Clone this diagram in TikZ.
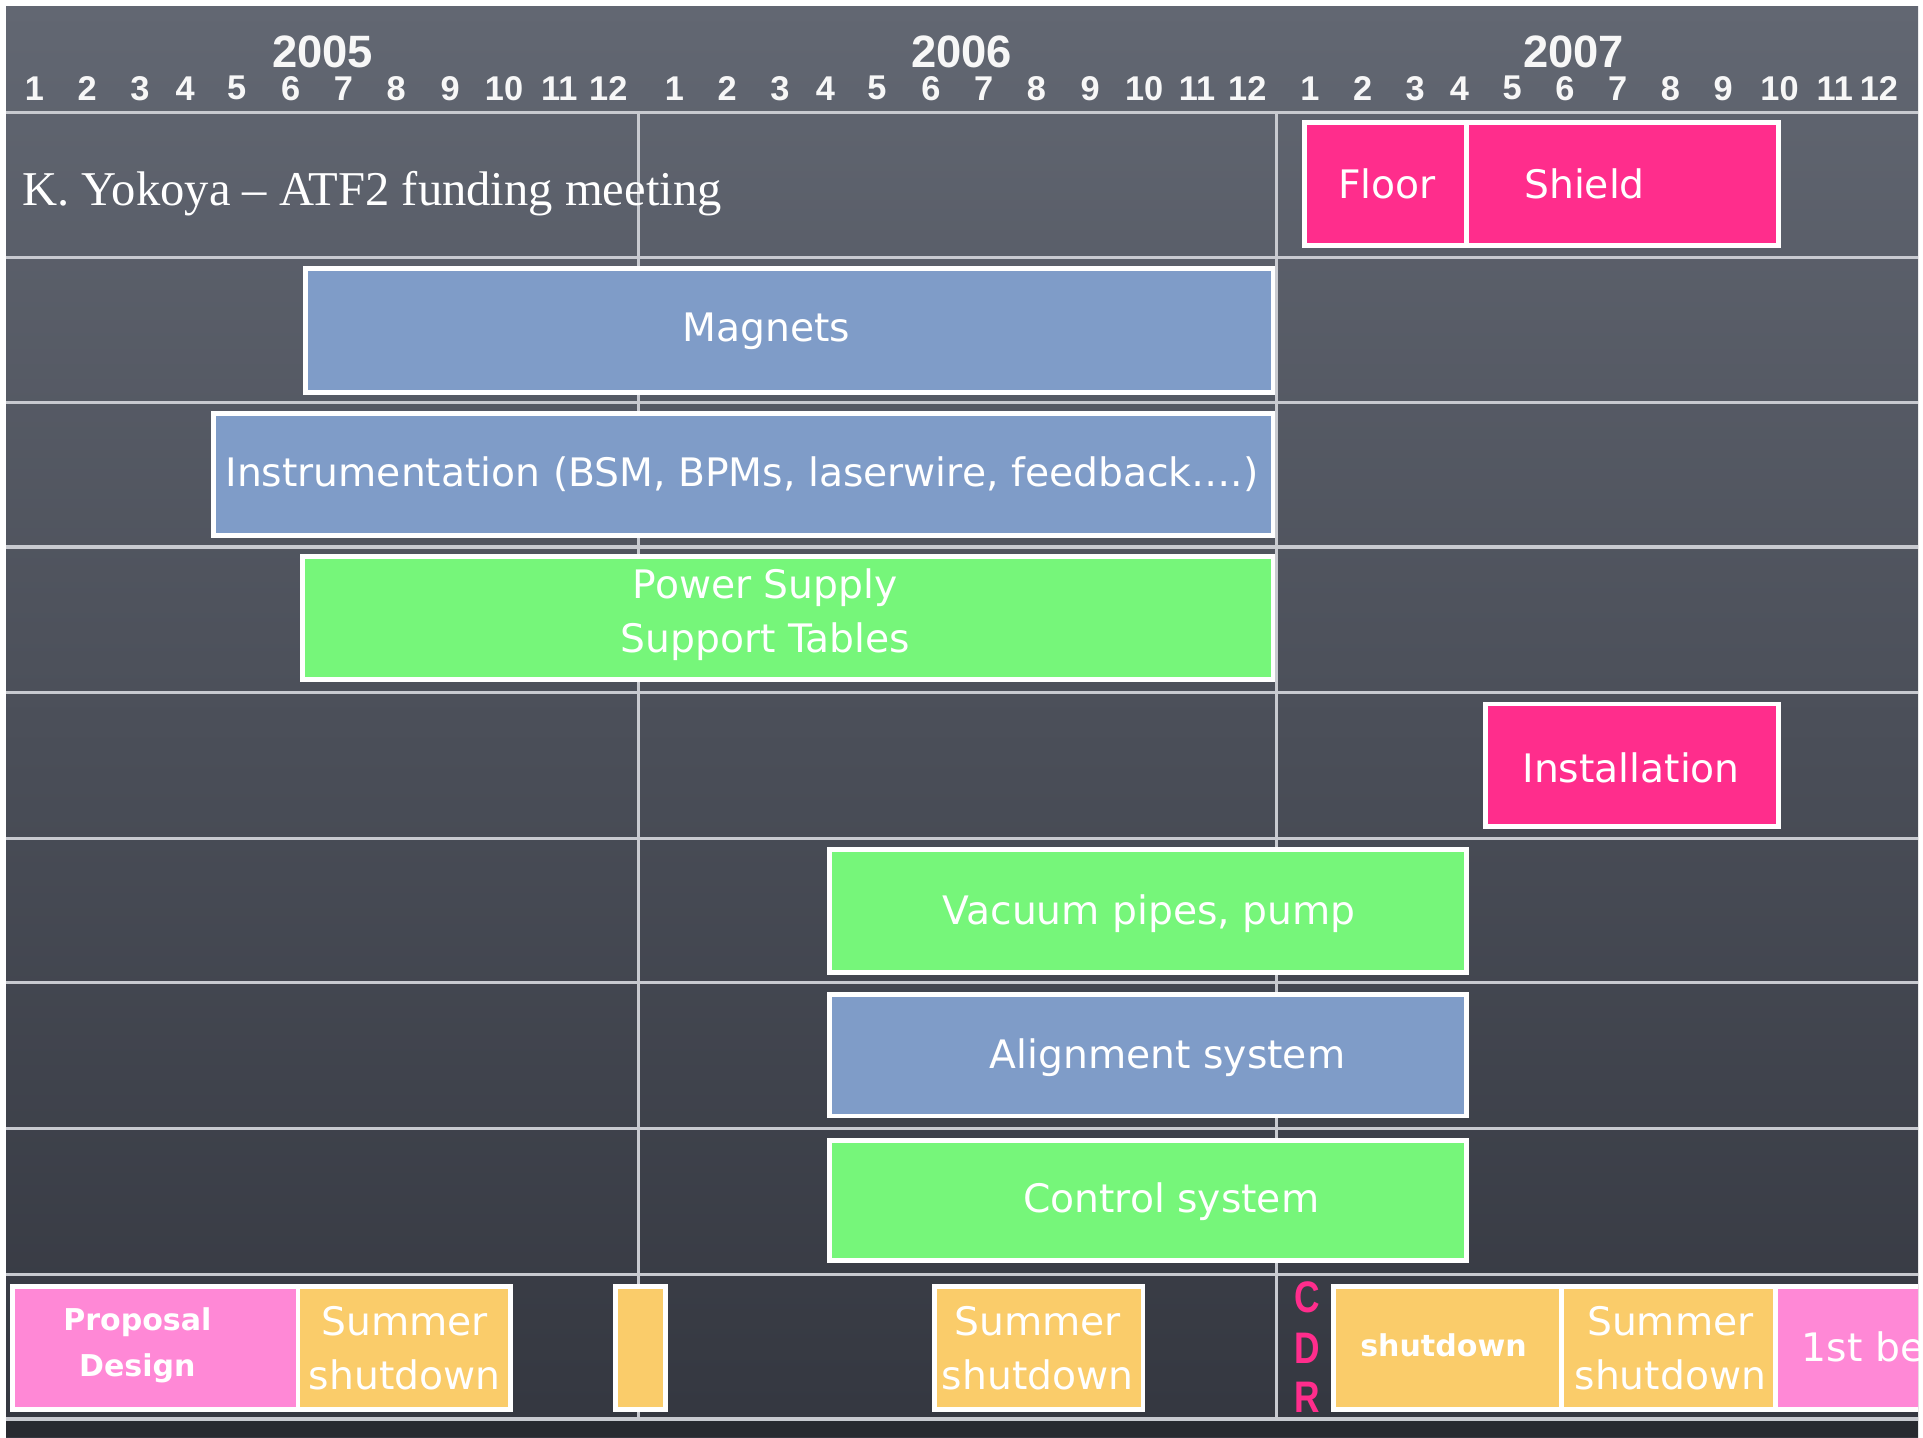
\documentclass[tikz,border=0pt]{standalone}
\usepackage{fontspec}
\setmainfont{Liberation Serif}
\newfontfamily\boxfont{DejaVu Sans}
\newfontfamily\hdrfont{Liberation Sans}
\newfontfamily\cdrfont[FakeStretch=0.8]{Liberation Sans}
\usetikzlibrary{fit}
\definecolor{bgtop}{RGB}{98,103,114}
\definecolor{bgbot}{RGB}{52,55,64}
\definecolor{bgstrip}{RGB}{40,42,48}
\definecolor{gridc}{RGB}{200,202,208}
\definecolor{hotpink}{RGB}{255,45,140}
\definecolor{steel}{RGB}{127,156,200}
\definecolor{lgreen}{RGB}{118,246,122}
\definecolor{lpink}{RGB}{255,136,214}
\definecolor{sorange}{RGB}{250,204,106}
\begin{document}
\begin{tikzpicture}[x=1pt,y=-1pt,
  bar/.style={draw=white, line width=4pt, inner sep=0pt},
  lbl/.style={text=white, font=\boxfont\fontsize{32}{44}\selectfont, align=center, inner sep=0pt},
  blbl/.style={text=white, font=\boxfont\bfseries\fontsize{24.5}{38}\selectfont, align=center, inner sep=0pt},
  yr/.style={text=white!94!gray, font=\hdrfont\bfseries\fontsize{37}{40}\selectfont, inner sep=0pt},
  mon/.style={text=white!94!gray, font=\hdrfont\bfseries\fontsize{28}{30}\selectfont, inner sep=0pt},
  gridl/.style={draw=gridc, line width=2.5pt},
  cdr/.style={text=hotpink, font=\cdrfont\bfseries\fontsize{36}{38}\selectfont, inner sep=0pt}
]
\useasboundingbox (0,0) rectangle (1568,1172);
\fill[white] (0,0) rectangle (1568,1172);
\shade[top color=bgtop, bottom color=bgbot] (5,5) rectangle (1564,1172);
\fill[bgstrip] (5,1157) rectangle (1564,1172);

% grid
\foreach \yy in {92,210,328,446,565,684,801,920,1039,1157}
  \draw[gridl] (5,\yy) -- (1564,\yy);
\foreach \xx in {521,1041}
  \draw[gridl] (\xx,92) -- (\xx,1157);

% header
\node[yr] (y2005) at (263,42) {2005};
\node[yr] (y2006) at (784,42) {2006};
\node[yr] (y2007) at (1283,42) {2007};
\foreach \m/\xx in {1/28,2/71,3/114,4/151,5/193,6/237,7/280,8/323,9/367,10/411,11/456,12/496}
  \node[mon] (ma\m) at (\xx,72) {\m};
\foreach \m/\xx in {1/550,2/593,3/636,4/673,5/715,6/759,7/802,8/845,9/889,10/933,11/976,12/1017}
  \node[mon] (mb\m) at (\xx,72) {\m};
\foreach \m/\xx in {1/1068,2/1111,3/1154,4/1190,5/1233,6/1276,7/1319,8/1362,9/1405,10/1451,11/1496,12/1532}
  \node[mon] (mc\m) at (\xx,72) {\m};

% title
\node[text=white, font=\fontsize{39.6}{42}\selectfont, inner sep=0pt, anchor=west] (title) at (18,158) {K. Yokoya -- ATF2 funding meeting};

% bars
\node[bar, fill=hotpink, fit={(1064,100) (1196,200)}] (floor) {};
\node[bar, fill=hotpink, fit={(1196,100) (1450,200)}] (shield) {};
\node[lbl] (floorl) at (1131,150) {Floor};
\node[lbl] (shieldl) at (1292,150) {Shield};

\node[bar, fill=steel, fit={(249,219) (1038,320)}] (mag) {};
\node[lbl] (magl) at (625,270) {Magnets};

\node[bar, fill=steel, fit={(174,337) (1038,437)}] (inst) {};
\node[lbl] (instl) at (605,387) {Instrumentation (BSM, BPMs, laserwire, feedback….)};

\node[bar, fill=lgreen, fit={(247,454) (1038,554)}] (pow) {};
\node[lbl] (powl) at (624,501) {Power Supply\\Support Tables};

\node[bar, fill=hotpink, fit={(1211,574) (1450,674)}] (inst2) {};
\node[lbl] (inst2l) at (1330,626) {Installation};

\node[bar, fill=lgreen, fit={(676,693) (1196,793)}] (vac) {};
\node[lbl] (vacl) at (937,745) {Vacuum pipes, pump};

\node[bar, fill=steel, fit={(676,811) (1196,910)}] (ali) {};
\node[lbl] (alil) at (952,862) {Alignment system};

\node[bar, fill=lgreen, fit={(676,930) (1196,1028)}] (ctl) {};
\node[lbl] (ctll) at (955,980) {Control system};

% bottom row
\begin{scope}
\clip (5,5) rectangle (1564,1172);
\node[bar, fill=lpink, fit={(10,1049) (243,1149)}] (prop) {};
\node[blbl] (propl) at (112,1097) {Proposal\\Design};
\node[bar, fill=sorange, fit={(243,1049) (416,1149)}] (sum1) {};
\node[lbl] (sum1l) at (330,1099) {Summer\\shutdown};
\node[bar, fill=sorange, fit={(502,1049) (543,1149)}] (sm) {};
\node[bar, fill=sorange, fit={(762,1049) (932,1149)}] (sum2) {};
\node[lbl] (sum2l) at (846,1099) {Summer\\shutdown};
\node[cdr] (cc) at (1066,1058) {C};
\node[cdr] (cd) at (1066,1099) {D};
\node[cdr] (cr) at (1066,1139) {R};
\node[bar, fill=sorange, fit={(1087,1049) (1273,1149)}] (shut) {};
\node[blbl] (shutl) at (1177,1097) {shutdown};
\node[bar, fill=sorange, fit={(1273,1049) (1448,1149)}] (sum3) {};
\node[lbl] (sum3l) at (1362,1099) {Summer\\shutdown};
\node[bar, fill=lpink, fit={(1448,1049) (1600,1149)}] (beam) {};
\node[lbl, anchor=west] (beaml) at (1469,1098) {1st beam};
\end{scope}
\end{tikzpicture}
\end{document}
